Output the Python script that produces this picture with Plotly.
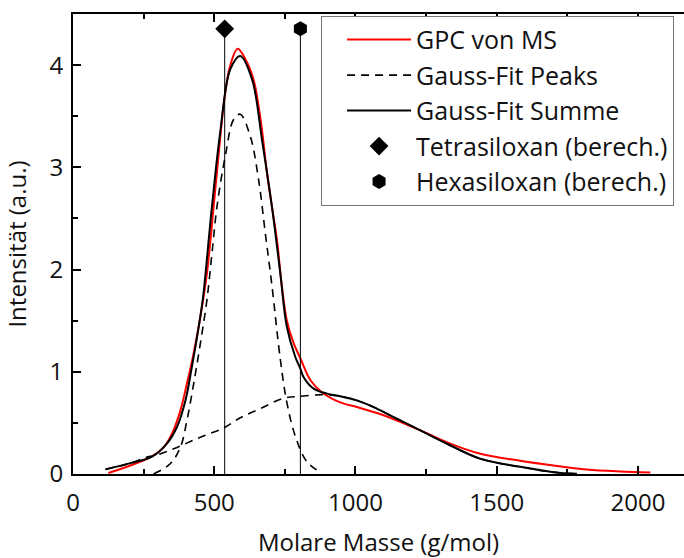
import plotly.graph_objects as go

# ---- data ----
gpc_x = [125, 203, 274, 321, 356, 380, 403, 427, 451, 474, 498, 515, 533, 555, 583,
         610, 639, 665, 687, 705, 722, 740, 757, 781, 805, 840, 881, 946, 1005, 1064,
         1123, 1230, 1324, 1442, 1583, 1701, 1819, 1937, 2044]
gpc_y = [0.01, 0.083, 0.165, 0.26, 0.43, 0.62, 0.88, 1.18, 1.54, 1.96, 2.62, 3.11, 3.60, 3.98, 4.16,
         4.06, 3.86, 3.45, 2.94, 2.60, 2.29, 1.82, 1.50, 1.28, 1.13, 0.92, 0.80, 0.70, 0.655, 0.606,
         0.55, 0.426, 0.31, 0.198, 0.13, 0.083, 0.044, 0.025, 0.015]

sum_x = [115, 203, 280, 333, 368, 398, 421, 445, 460, 492, 521, 557, 592, 634, 669,
         704, 734, 757, 787, 805, 816, 852, 899, 946, 1005, 1064, 1123, 1230, 1324, 1442,
         1583, 1701, 1784]
sum_y = [0.045, 0.106, 0.17, 0.30, 0.46, 0.72, 1.05, 1.44, 1.72, 2.62, 3.34, 3.96, 4.09, 3.86, 3.27,
         2.62, 1.96, 1.44, 1.145, 1.03, 0.95, 0.835, 0.786, 0.76, 0.72, 0.655, 0.574, 0.426, 0.296, 0.149,
         0.07, 0.018, 0.002]

peak1_x = [285, 344, 380, 403, 427, 451, 474, 492, 510, 539, 569, 592, 628, 657, 681,
           704, 734, 757, 787, 828, 881]
peak1_y = [0.0, 0.1, 0.26, 0.52, 0.88, 1.28, 1.70, 2.16, 2.62, 3.11, 3.47, 3.52, 3.30, 2.88, 2.35,
           1.85, 1.12, 0.70, 0.37, 0.12, 0.01]

peak2_x = [115, 203, 262, 291, 368, 451, 533, 592, 663, 745, 805, 887, 946, 1005, 1064,
           1123, 1230, 1324, 1442, 1583, 1701, 1784]
peak2_y = [0.045, 0.106, 0.165, 0.18, 0.26, 0.36, 0.45, 0.55, 0.64, 0.74, 0.76, 0.776, 0.76, 0.72, 0.655,
           0.574, 0.426, 0.296, 0.149, 0.07, 0.018, 0.002]

tetra_x = [537]
hexa_x = [805]
marker_y = [4.355]
stem_base = 0

x_ticks = [0, 500, 1000, 1500, 2000]
y_ticks = [0, 1, 2, 3, 4]

FONT = "Open Sans"

fig = go.Figure()
fig.add_trace(go.Scatter(x=gpc_x, y=gpc_y, mode="lines", name="GPC von MS",
                         line=dict(color="#ff0000", width=2, shape="spline")))
fig.add_trace(go.Scatter(x=peak1_x, y=peak1_y, mode="lines", name="Gauss-Fit Peaks",
                         legendgroup="peaks",
                         line=dict(color="black", width=1.6, dash="8px,6px", shape="spline")))
fig.add_trace(go.Scatter(x=peak2_x, y=peak2_y, mode="lines", name="Gauss-Fit Peaks",
                         legendgroup="peaks", showlegend=False,
                         line=dict(color="black", width=1.6, dash="8px,6px", shape="spline")))
fig.add_trace(go.Scatter(x=sum_x, y=sum_y, mode="lines", name="Gauss-Fit Summe",
                         line=dict(color="black", width=2, shape="spline")))
# vertical stems
for xv in (tetra_x, hexa_x):
    fig.add_trace(go.Scatter(x=[xv[0], xv[0]], y=[stem_base, marker_y[0]], mode="lines",
                             showlegend=False, hoverinfo="skip",
                             line=dict(color="black", width=1)))
fig.add_trace(go.Scatter(x=tetra_x, y=marker_y, mode="markers", name="Tetrasiloxan (berech.)",
                         marker=dict(symbol="diamond", size=14.5, color="black")))
fig.add_trace(go.Scatter(x=hexa_x, y=marker_y, mode="markers", name="Hexasiloxan (berech.)",
                         marker=dict(symbol="hexagon", size=15, color="black")))

fig.update_layout(
    width=684, height=558,
    margin=dict(l=73, r=0, t=14, b=84, pad=0),
    paper_bgcolor="white", plot_bgcolor="white",
    font=dict(family=FONT, size=24, color="#111111"),
    legend=dict(x=0.406, y=0.996, xanchor="left", yanchor="top",
                bgcolor="white", bordercolor="#777777", borderwidth=1,
                font=dict(family=FONT, size=25, color="#111111"),
                itemwidth=64, indentation=20, tracegroupgap=0),
    xaxis=dict(range=[0, 2163], tickmode="array", tickvals=x_ticks,
               ticktext=[str(v) for v in x_ticks],
               showline=True, linecolor="black", linewidth=2, mirror="ticks",
               ticks="inside", ticklen=8, tickwidth=1.5, tickcolor="black",
               minor=dict(ticks="inside", ticklen=5, tickwidth=1.5, dtick=250, tick0=0,
                          tickcolor="black"),
               showgrid=False, zeroline=False, ticklabelstandoff=6,
               title=dict(text="Molare Masse (g/mol)", standoff=19,
                          font=dict(family=FONT, size=24))),
    yaxis=dict(range=[0, 4.5], tickmode="array", tickvals=y_ticks,
               ticktext=[str(v) for v in y_ticks],
               showline=True, linecolor="black", linewidth=2, mirror=False,
               ticks="inside", ticklen=8, tickwidth=1.5, tickcolor="black",
               minor=dict(ticks="inside", ticklen=5, tickwidth=1.5, dtick=0.5, tick0=0,
                          tickcolor="black"),
               showgrid=False, zeroline=False, ticklabelstandoff=3,
               title=dict(text="Intensität (a.u.)", standoff=16,
                          font=dict(family=FONT, size=24))),
)

fig.write_html("out.html")
